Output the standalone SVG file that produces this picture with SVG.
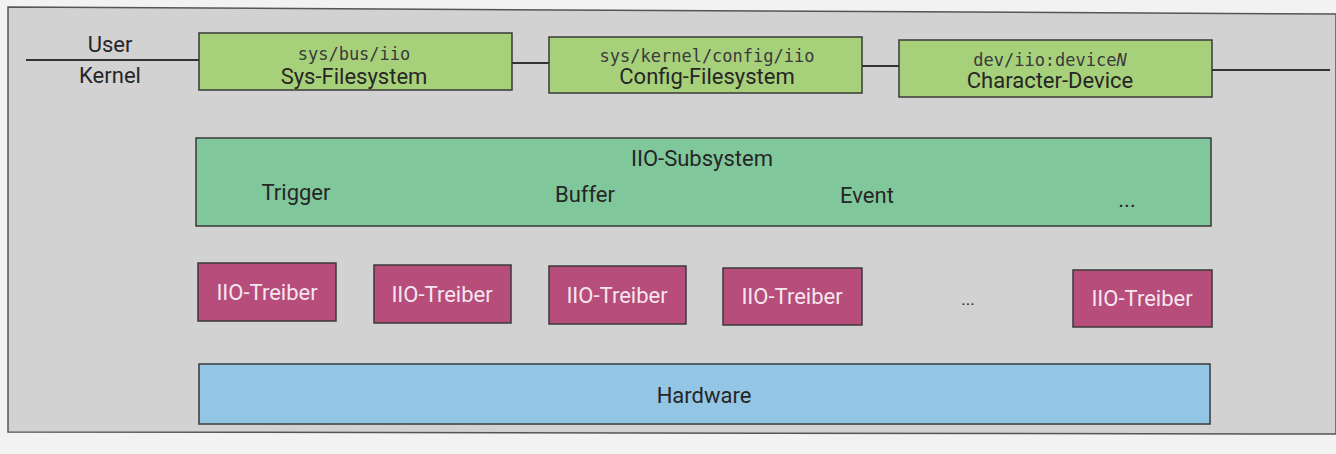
<svg xmlns="http://www.w3.org/2000/svg" width="1336" height="454" viewBox="0 0 1336 454">
<style>
.lbl{font-family:Roboto,"Liberation Sans",sans-serif;font-size:22px;fill:#262626;text-anchor:middle}
.mono{font-family:"DejaVu Sans Mono","Liberation Mono",monospace;font-size:17px;fill:#3a3a3a;text-anchor:middle}
.fs{fill:#a7d07a;stroke:#3a3a3a;stroke-width:1.5}
.sub{fill:#80c89c;stroke:#3a3a3a;stroke-width:1.5}
.drv{fill:#b64d7a;stroke:#3a3a3a;stroke-width:1.5}
.drvt{font-family:Roboto,"Liberation Sans",sans-serif;font-size:22px;fill:#f5e6ee;text-anchor:middle}
.hw{fill:#93c5e4;stroke:#3a3a3a;stroke-width:1.5}
.ln{stroke:#333;stroke-width:1.8;fill:none}
</style>
<rect x="0" y="0" width="1336" height="454" fill="#f2f2f2"/>
<polygon points="8,7 1336,14 1336,434 8,432" fill="#d2d2d2" stroke="#555" stroke-width="1.5"/>
<g id="connectors">
<line class="ln" x1="26" y1="60" x2="199" y2="60"/>
<line class="ln" x1="512" y1="63" x2="549" y2="63"/>
<line class="ln" x1="862" y1="66" x2="899" y2="66"/>
<line class="ln" x1="1212" y1="70" x2="1330" y2="70"/>
</g>
<g id="user-kernel">
<text class="lbl" x="110" y="52">User</text>
<text class="lbl" x="110" y="83">Kernel</text>
</g>
<g id="sysfs">
<rect class="fs" x="199" y="33" width="313" height="57"/>
<text class="mono" x="354" y="60">sys/bus/iio</text>
<text class="lbl" x="354" y="84">Sys-Filesystem</text>
</g>
<g id="configfs">
<rect class="fs" x="549" y="37" width="313" height="56"/>
<text class="mono" x="707" y="62">sys/kernel/config/iio</text>
<text class="lbl" x="707" y="84">Config-Filesystem</text>
</g>
<g id="chardev">
<rect class="fs" x="899" y="40" width="313" height="57"/>
<text class="mono" x="1050" y="66">dev/iio:device<tspan font-style="italic">N</tspan></text>
<text class="lbl" x="1050" y="88">Character-Device</text>
</g>
<g id="subsystem">
<rect class="sub" x="196" y="138" width="1015" height="88"/>
<text class="lbl" x="702" y="166">IIO-Subsystem</text>
<text class="lbl" x="296" y="200">Trigger</text>
<text class="lbl" x="585" y="202">Buffer</text>
<text class="lbl" x="867" y="203">Event</text>
<text class="lbl" x="1127" y="207">...</text>
</g>
<g id="driver1">
<rect class="drv" x="198" y="263" width="138" height="58"/>
<text class="drvt" x="267" y="300">IIO-Treiber</text>
</g>
<g id="driver2">
<rect class="drv" x="374" y="265" width="137" height="58"/>
<text class="drvt" x="442" y="302">IIO-Treiber</text>
</g>
<g id="driver3">
<rect class="drv" x="549" y="266" width="137" height="58"/>
<text class="drvt" x="617" y="303">IIO-Treiber</text>
</g>
<g id="driver4">
<rect class="drv" x="723" y="268" width="139" height="57"/>
<text class="drvt" x="792" y="304">IIO-Treiber</text>
</g>
<g id="dots">
<text class="lbl" x="968" y="305" style="font-size:17px">...</text>
</g>
<g id="driver5">
<rect class="drv" x="1073" y="270" width="139" height="57"/>
<text class="drvt" x="1142" y="306">IIO-Treiber</text>
</g>
<g id="hardware">
<rect class="hw" x="199" y="364" width="1011" height="60"/>
<text class="lbl" x="704" y="403">Hardware</text>
</g>
</svg>
